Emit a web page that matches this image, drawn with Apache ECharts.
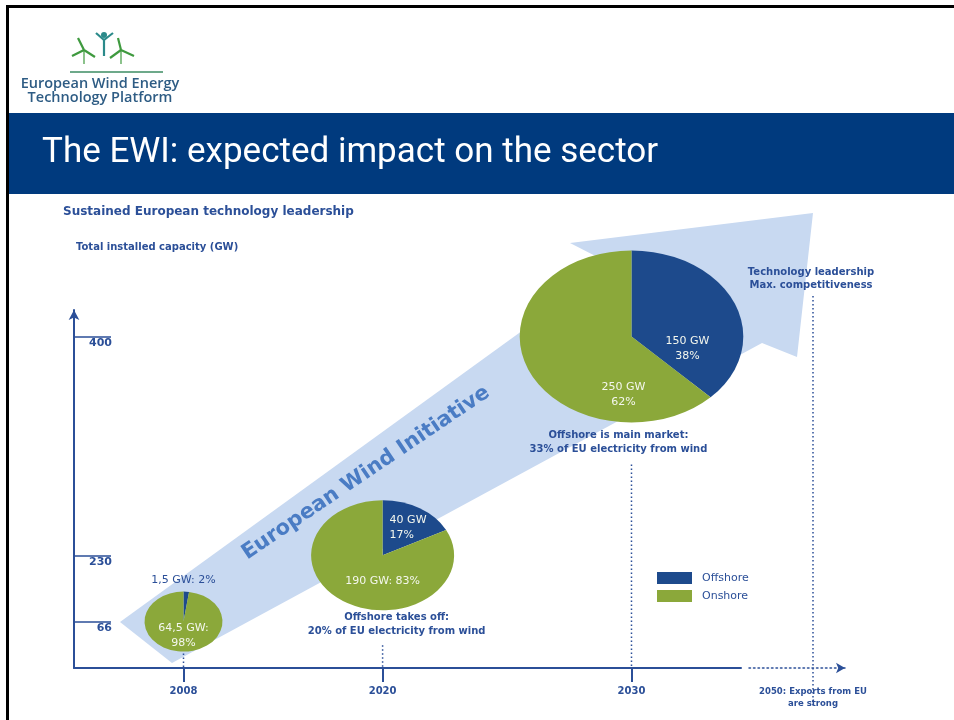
<!DOCTYPE html>
<html>
<head>
<meta charset="utf-8">
<script src="https://cdn.jsdelivr.net/npm/echarts@6/dist/echarts.min.js"></script>
<style>
  html, body { margin: 0; padding: 0; background: #ffffff; }
  #chart { width: 954px; height: 720px; }
</style>
</head>
<body>
<div id="chart"></div>
<script>
// ---------- data ----------
const years = ['2008', '2020', '2030'];
const offshoreGW = [1.5, 40, 150];
const onshoreGW = [64.5, 190, 250];
const offshorePct = [2, 17, 38];
const onshorePct = [98, 83, 62];
const capacityTicks = ['66', '230', '400'];
const milestoneNotes = [
  '',
  'Offshore takes off:\n20% of EU electricity from wind',
  'Offshore is main market:\n33% of EU electricity from wind'
];
const horizonYear = '2050';
const horizonLabel = '2050: Exports from EU\nare strong';
const horizonNote = 'Technology leadership\nMax. competitiveness';

// ---------- schematic axes (not to scale): slot index of each milestone ----------
const X_SLOTS = 67;
const X_SLOT_OF = { '2008': 11, '2020': 31, '2030': 56 };
const Y_SLOTS = 54;
const Y_SLOT_OF = { '66': 7, '230': 17, '400': 50 };

function slotAxis(count, slotOf) {
  const arr = [];
  for (let i = 0; i <= count; i++) arr.push('\u00b7' + i);
  Object.keys(slotOf).forEach(k => { arr[slotOf[k]] = k; });
  return arr;
}
const xCats = slotAxis(X_SLOTS, X_SLOT_OF);
const yCats = slotAxis(Y_SLOTS, Y_SLOT_OF);
const xMarks = new Set(Object.values(X_SLOT_OF));
const yMarks = new Set(Object.values(Y_SLOT_OF));
const isMark = v => String(v).charAt(0) !== '\u00b7';

// ---------- styles ----------
const FONT = '"DejaVu Sans", Verdana, sans-serif';
const C = {
  off: '#1d4a8c', on: '#8ba83a', ink: '#2b4f98',
  arrow: '#c8d9f1', arrowText: '#4a7cc4', band: '#003a7e', inner: '#f4f7ee'
};
const STRETCH = 1.3; // pies are drawn as horizontally stretched ellipses
const PIE = [
  { ry: 30, drop: 32,
    off: { dx: 0, dy: -41, sep: ': ', fill: C.ink },
    on:  { dx: 0, dy: 14, sep: ':\n' } },
  { ry: 55, drop: 90, noteDx: 14, noteDy: 69,
    off: { dx: 7, dy: -28, sep: '\n', align: 'left' },
    on:  { dx: 0, dy: 26, sep: ': ' } },
  { ry: 86, drop: 128, noteDx: -13, noteDy: 106,
    off: { dx: 56, dy: 12, sep: '\n' },
    on:  { dx: -8, dy: 58, sep: '\n' } }
];
const fmt = v => String(v).replace('.', ',');

function pieSeries(name, values, pcts, which) {
  return {
    type: 'custom', name, xAxisIndex: 0, yAxisIndex: 0, z: 3,
    itemStyle: { color: which === 'off' ? C.off : C.on },
    encode: { x: 0, y: 1 },
    data: years.map((y, i) => [y, capacityTicks[i], values[i], pcts[i]]),
    renderItem(params, api) {
      const i = params.dataIndex;
      const c = api.coord([api.value(0), api.value(1)]);
      const total = offshoreGW[i] + onshoreGW[i];
      const a0 = -Math.PI / 2;
      const split = a0 + 2 * Math.PI * offshoreGW[i] / total;
      const s = which === 'off' ? a0 : split;
      const e = which === 'off' ? split : a0 + 2 * Math.PI;
      const L = PIE[i][which];
      const text = fmt(api.value(2)) + ' GW' + L.sep + api.value(3) + '%';
      return {
        type: 'group',
        children: [
          { type: 'sector', x: c[0], y: c[1], scaleX: STRETCH,
            shape: { cx: 0, cy: 0, r0: 0, r: PIE[i].ry, startAngle: s, endAngle: e, clockwise: true },
            style: { fill: api.visual('color') } },
          { type: 'text', x: c[0] + L.dx, y: c[1] + L.dy, z2: 10,
            style: { text, fill: L.fill || C.inner, font: '11px ' + FONT,
                     align: L.align || 'center', verticalAlign: 'middle', lineHeight: 15 } }
        ]
      };
    }
  };
}

const chart = echarts.init(document.getElementById('chart'), null, { renderer: 'canvas' });

chart.setOption({
  animation: false,
  backgroundColor: '#ffffff',
  title: [
    { text: 'Sustained European technology leadership', left: 63, top: 206, padding: 0,
      textStyle: { fontSize: 12, fontWeight: 'bold', color: C.ink, fontFamily: FONT } },
    { text: 'Total installed capacity (GW)', left: 76, top: 242, padding: 0,
      textStyle: { fontSize: 10, fontWeight: 'bold', color: C.ink, fontFamily: FONT } }
  ],
  legend: {
    data: ['Offshore', 'Onshore'], orient: 'vertical', left: 657, top: 572,
    itemWidth: 35, itemHeight: 12, itemGap: 6, icon: 'rect', padding: 0, selectedMode: false,
    textStyle: { fontSize: 11, color: C.ink, fontFamily: FONT, padding: [0, 0, 0, 5] }
  },
  grid: [
    { left: 74, top: 310, width: 667, height: 358, containLabel: false, outerBoundsMode: 'none' },
    { left: 749, top: 310, width: 96, height: 358, containLabel: false, outerBoundsMode: 'none' }
  ],
  xAxis: [
    { gridIndex: 0, type: 'category', data: xCats, boundaryGap: false,
      axisLine: { show: true, lineStyle: { color: C.ink, width: 2 } },
      axisTick: { show: true, interval: (i) => xMarks.has(i), length: 14,
                  lineStyle: { color: C.ink, width: 2 } },
      axisLabel: { interval: (i, v) => isMark(v), margin: 18, color: C.ink, fontFamily: FONT,
                   fontWeight: 'bold', fontSize: 10 },
      splitLine: { show: false } },
    { gridIndex: 1, type: 'category', data: ['\u00b7a', '\u00b7b', horizonYear, '\u00b7c'], boundaryGap: false,
      axisLine: { symbol: ['none', 'arrow'], symbolSize: [8, 9],
                  lineStyle: { color: C.ink, width: 1.5, type: [1.5, 3] } },
      axisTick: { show: false },
      axisLabel: { interval: (i, v) => v === horizonYear, formatter: v => (v === horizonYear ? horizonLabel : ''),
                   margin: 18, color: C.ink, fontFamily: FONT, fontWeight: 'bold', fontSize: 8.5, lineHeight: 12 },
      splitLine: { show: false } }
  ],
  yAxis: [
    { gridIndex: 0, type: 'category', data: yCats, boundaryGap: false,
      axisLine: { show: true, symbol: ['none', 'arrow'], symbolSize: [8, 10], lineStyle: { color: C.ink, width: 2 } },
      axisTick: { show: true, interval: (i) => yMarks.has(i), inside: true, length: 37,
                  lineStyle: { color: C.ink, width: 1.5 } },
      axisLabel: { interval: (i, v) => isMark(v), inside: true, margin: 38, align: 'right',
                   verticalAlign: 'top', padding: [1, 0, 0, 0],
                   color: C.ink, fontFamily: FONT, fontWeight: 'bold', fontSize: 11 },
      splitLine: { show: false } },
    { gridIndex: 1, type: 'value', min: 0, max: 1, show: false }
  ],
  graphic: [
    // slide frame
    { type: 'rect', shape: { x: 6, y: 5, width: 948, height: 3 }, style: { fill: '#000' }, z: 0 },
    { type: 'rect', shape: { x: 6, y: 5, width: 3, height: 715 }, style: { fill: '#000' }, z: 0 },
    // header band
    { type: 'rect', shape: { x: 9, y: 113, width: 945, height: 81 }, style: { fill: C.band }, z: 0 },
    { type: 'text', x: 42, y: 153, z: 1,
      style: { text: 'The EWI: expected impact on the sector', fill: '#ffffff',
               font: '35px Roboto, "Liberation Sans", sans-serif', verticalAlign: 'middle' } },
    // platform logo
    { type: 'group', z: 1, children: [
      { type: 'line', shape: { x1: 70, y1: 72, x2: 163, y2: 72 }, style: { stroke: '#3d8c63', lineWidth: 1.5 } },
      { type: 'polyline', shape: { points: [[84, 50], [78, 38]] }, style: { stroke: '#3f9a3f', lineWidth: 2.2 } },
      { type: 'polyline', shape: { points: [[84, 50], [72, 56]] }, style: { stroke: '#3f9a3f', lineWidth: 2.2 } },
      { type: 'polyline', shape: { points: [[84, 50], [95, 57]] }, style: { stroke: '#3f9a3f', lineWidth: 2.2 } },
      { type: 'polyline', shape: { points: [[84, 50], [84, 64]] }, style: { stroke: '#3f9a3f', lineWidth: 1.2 } },
      { type: 'polyline', shape: { points: [[104, 40], [96, 33]] }, style: { stroke: '#2b8a8a', lineWidth: 2.2 } },
      { type: 'polyline', shape: { points: [[104, 40], [113, 33]] }, style: { stroke: '#2b8a8a', lineWidth: 2.2 } },
      { type: 'polyline', shape: { points: [[104, 40], [104, 56]] }, style: { stroke: '#2b8a8a', lineWidth: 2.2 } },
      { type: 'circle', shape: { cx: 104, cy: 35, r: 3 }, style: { fill: '#2b8a8a' } },
      { type: 'polyline', shape: { points: [[121, 50], [118, 38]] }, style: { stroke: '#3f9a3f', lineWidth: 2.2 } },
      { type: 'polyline', shape: { points: [[121, 50], [110, 58]] }, style: { stroke: '#3f9a3f', lineWidth: 2.2 } },
      { type: 'polyline', shape: { points: [[121, 50], [134, 56]] }, style: { stroke: '#3f9a3f', lineWidth: 2.2 } },
      { type: 'polyline', shape: { points: [[121, 50], [121, 64]] }, style: { stroke: '#3f9a3f', lineWidth: 1.2 } },
      { type: 'text', x: 100, y: 84,
        style: { text: 'European Wind Energy', fill: '#2e5c84', font: '600 14.5px "Open Sans", sans-serif',
                 align: 'center', verticalAlign: 'middle' } },
      { type: 'text', x: 100, y: 98,
        style: { text: 'Technology Platform', fill: '#2e5c84', font: '600 14.5px "Open Sans", sans-serif',
                 align: 'center', verticalAlign: 'middle' } }
    ] },
    // initiative arrow behind the pies
    { type: 'polygon', z: 0,
      shape: { points: [[120, 622], [613, 265], [570, 243], [813, 213], [797, 357], [762, 343], [172, 663]] },
      style: { fill: C.arrow } },
    { type: 'text', x: 366, y: 473, rotation: 34 * Math.PI / 180, z: 1,
      style: { text: 'European Wind Initiative', fill: C.arrowText, font: 'bold 21px ' + FONT,
               align: 'center', verticalAlign: 'middle' } }
  ],
  series: [
    pieSeries('Offshore', offshoreGW, offshorePct, 'off'),
    pieSeries('Onshore', onshoreGW, onshorePct, 'on'),
    // milestone notes and dotted drop lines
    { type: 'custom', name: 'notes', xAxisIndex: 0, yAxisIndex: 0, z: 4, silent: true,
      encode: { x: 0, y: 1 },
      data: years.map((y, i) => [y, capacityTicks[i]]),
      renderItem(params, api) {
        const i = params.dataIndex;
        const c = api.coord([api.value(0), api.value(1)]);
        const base = api.coord([api.value(0), 0])[1];
        const children = [
          { type: 'line', shape: { x1: c[0], y1: c[1] + PIE[i].drop, x2: c[0], y2: base },
            style: { stroke: C.ink, lineWidth: 1.5, lineDash: [1.5, 2.5] } }
        ];
        if (milestoneNotes[i]) {
          children.push({ type: 'text', x: c[0] + PIE[i].noteDx, y: c[1] + PIE[i].noteDy,
            style: { text: milestoneNotes[i], fill: C.ink, font: 'bold 10px ' + FONT,
                     align: 'center', verticalAlign: 'middle', lineHeight: 13.5 } });
        }
        return { type: 'group', children };
      } },
    // horizon marker beyond the timeline
    { type: 'custom', name: 'horizon', xAxisIndex: 1, yAxisIndex: 1, z: 4, silent: true,
      encode: { x: 0, y: 1 },
      data: [[horizonYear, 0]],
      renderItem(params, api) {
        const base = api.coord([api.value(0), 0]);
        const top = api.coord([api.value(0), 1]);
        return { type: 'group', children: [
          { type: 'line', shape: { x1: base[0], y1: top[1] - 14, x2: base[0], y2: base[1] + 38 },
            style: { stroke: C.ink, lineWidth: 1.5, lineDash: [1.5, 2.5] } },
          { type: 'text', x: base[0] - 2, y: top[1] - 31,
            style: { text: horizonNote, fill: C.ink, font: 'bold 10px ' + FONT,
                     align: 'center', verticalAlign: 'middle', lineHeight: 13 } }
        ] };
      } }
  ]
});
</script>
</body>
</html>
